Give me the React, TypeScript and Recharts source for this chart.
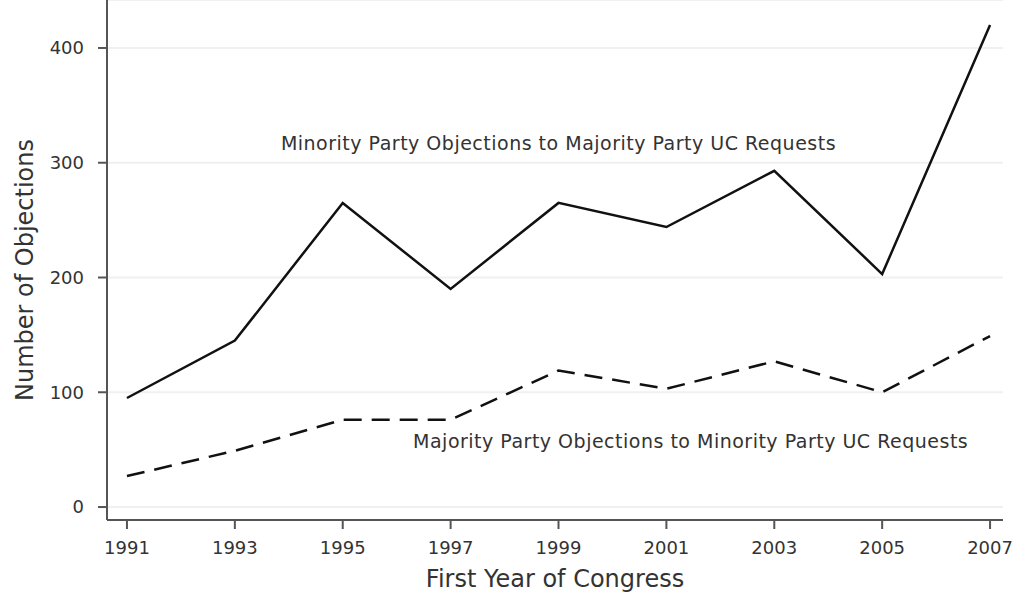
import React from "react";
import {
  LineChart,
  Line,
  XAxis,
  YAxis,
  CartesianGrid,
  ReferenceDot,
} from "recharts";

const years = [1991, 1993, 1995, 1997, 1999, 2001, 2003, 2005, 2007];
const minorityObjections = [95, 145, 265, 190, 265, 244, 293, 203, 420];
const majorityObjections = [27, 49, 76, 76, 119, 103, 127, 100, 149];
const yTicks = [0, 100, 200, 300, 400];

const data = years.map((year, i) => ({
  year,
  minority: minorityObjections[i],
  majority: majorityObjections[i],
}));

const FONT = "DejaVu Sans";
const AXIS_COLOR = "#555";
const TEXT = "#333";

export default function App() {
  return (
    <div style={{ position: "absolute", left: 0, top: 0, background: "#fff" }}>
      <LineChart
        width={1023}
        height={598}
        data={data}
        margin={{ top: 0, right: 20, bottom: 0, left: 0 }}
      >
        <CartesianGrid vertical={false} stroke="#f0f0f0" strokeWidth={2} />
        <XAxis
          dataKey="year"
          type="number"
          domain={[1990.63, 2007.24]}
          ticks={years}
          height={78}
          tickSize={9}
          tickMargin={12}
          stroke={AXIS_COLOR}
          strokeWidth={2}
          tick={{ fill: TEXT, fontSize: 18, fontFamily: FONT }}
          label={{
            value: "First Year of Congress",
            position: "center",
            dy: 19,
            style: { fill: TEXT, fontSize: 24, fontFamily: FONT },
          }}
        />
        <YAxis
          type="number"
          domain={[-11.3, 441.8]}
          ticks={yTicks}
          width={107}
          tickSize={9}
          tickMargin={14}
          stroke={AXIS_COLOR}
          strokeWidth={2}
          tick={{ fill: TEXT, fontSize: 18, fontFamily: FONT }}
          label={{
            value: "Number of Objections",
            angle: -90,
            position: "center",
            dx: -29,
            dy: 10,
            style: { fill: TEXT, fontSize: 24, fontFamily: FONT, textAnchor: "middle" },
          }}
        />
        <Line
          type="linear"
          dataKey="minority"
          stroke="#111"
          strokeWidth={2.5}
          dot={false}
          isAnimationActive={false}
        />
        <Line
          type="linear"
          dataKey="majority"
          stroke="#111"
          strokeWidth={2.5}
          strokeDasharray="18 10"
          dot={false}
          isAnimationActive={false}
        />
        <ReferenceDot
          x={1999}
          y={317}
          r={0}
          stroke="none"
          fill="none"
          label={{
            value: "Minority Party Objections to Majority Party UC Requests",
            position: "center",
            style: { fill: TEXT, fontSize: 19, letterSpacing: 0.5, fontFamily: FONT },
          }}
        />
        <ReferenceDot
          x={2001.45}
          y={57.5}
          r={0}
          stroke="none"
          fill="none"
          label={{
            value: "Majority Party Objections to Minority Party UC Requests",
            position: "center",
            style: { fill: TEXT, fontSize: 19, letterSpacing: 0.5, fontFamily: FONT },
          }}
        />
      </LineChart>
    </div>
  );
}
